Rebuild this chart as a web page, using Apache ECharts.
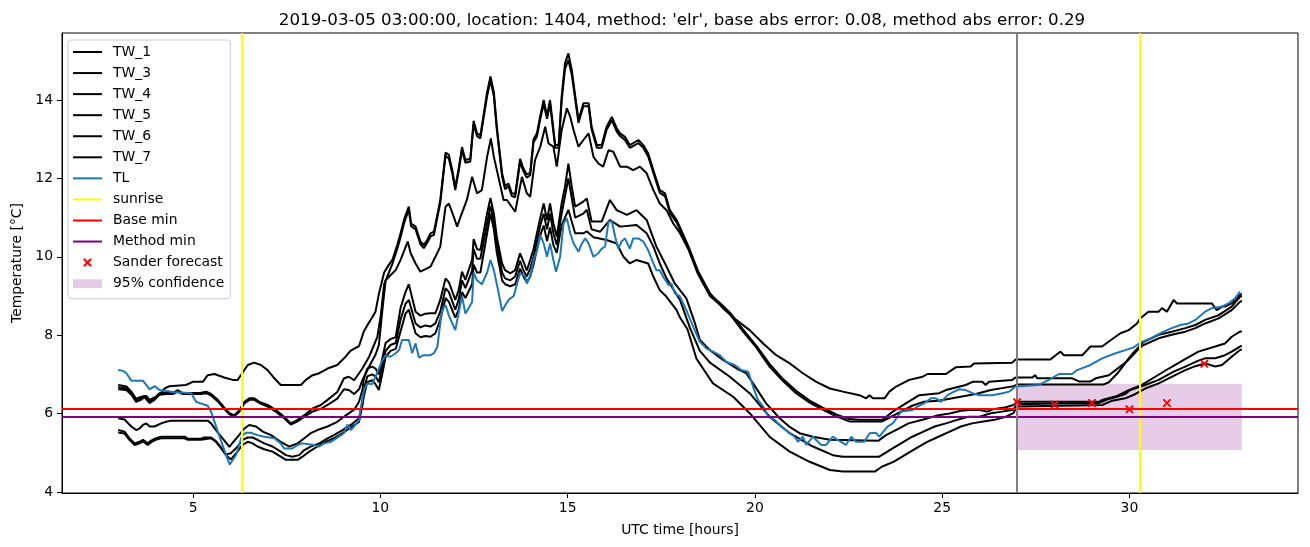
<!DOCTYPE html>
<html><head><meta charset="utf-8">
<script src="https://cdn.jsdelivr.net/npm/echarts@6/dist/echarts.min.js"></script>
<style>html,body{margin:0;padding:0;background:#fff}#c{width:1310px;height:547px}</style>
</head><body><div id="c"></div>
<script>
// ---- data (hour, temperature) ----
const TW_1 = [[3.0,6.73],[3.22,6.69],[3.35,6.56],[3.48,6.38],[3.62,6.43],[3.75,6.45],[3.84,6.35],[3.97,6.41],[4.1,6.48],[4.24,6.64],[4.37,6.7],[4.81,6.73],[4.99,6.81],[5.26,6.81],[5.39,6.98],[5.57,7.01],[5.83,6.92],[6.06,6.86],[6.19,6.86],[6.31,7.03],[6.46,7.24],[6.63,7.3],[6.81,7.24],[6.99,7.11],[7.17,6.9],[7.34,6.73],[7.88,6.73],[8.01,6.86],[8.19,6.98],[8.37,7.03],[8.59,7.15],[8.85,7.24],[9.07,7.45],[9.2,7.6],[9.35,7.68],[9.43,7.72],[9.56,8.1],[9.65,8.25],[9.78,8.45],[9.87,8.6],[9.96,9.05],[10.1,9.6],[10.23,9.8],[10.32,9.92],[10.45,10.3],[10.54,10.6],[10.63,10.94],[10.76,11.28],[10.82,10.85],[10.94,10.77],[11.07,10.39],[11.16,10.3],[11.25,10.43],[11.34,10.6],[11.43,10.64],[11.6,11.45],[11.74,12.66],[11.83,12.6],[11.92,12.21],[12.0,11.77],[12.09,12.25],[12.18,12.8],[12.27,12.47],[12.4,12.5],[12.49,13.47],[12.58,13.15],[12.67,13.1],[12.85,14.2],[12.94,14.6],[13.03,14.2],[13.11,13.32],[13.25,12.13],[13.33,11.8],[13.42,11.87],[13.51,11.62],[13.6,11.6],[13.73,12.5],[13.82,12.25],[13.91,12.1],[14.0,12.15],[14.09,13.0],[14.18,13.15],[14.27,13.6],[14.36,14.0],[14.45,13.6],[14.53,14.0],[14.67,12.85],[14.76,12.85],[14.84,14.09],[14.93,14.94],[15.02,15.19],[15.11,14.77],[15.29,13.49],[15.42,13.92],[15.56,13.92],[15.64,13.32],[15.78,12.85],[15.91,12.85],[16.04,13.32],[16.18,13.57],[16.31,13.28],[16.4,13.15],[16.53,13.06],[16.66,12.85],[16.89,12.98],[17.02,12.85],[17.15,12.64],[17.29,12.21],[17.46,11.7],[17.6,11.62],[17.73,11.19],[17.91,10.94],[18.0,10.75],[18.22,10.28],[18.48,9.64],[18.8,9.07],[19.15,8.69],[19.5,8.39],[19.86,8.13],[20.22,7.79],[20.57,7.49],[20.93,7.28],[21.28,7.03],[21.64,6.81],[22.0,6.64],[22.35,6.56],[22.79,6.47],[22.97,6.39],[23.06,6.47],[23.15,6.39],[23.46,6.39],[23.59,6.56],[23.77,6.69],[24.12,6.86],[24.48,6.94],[24.61,7.01],[25.1,7.01],[25.36,7.18],[25.76,7.2],[25.85,7.28],[26.87,7.3],[26.96,7.38],[27.89,7.38],[28.03,7.49],[28.16,7.58],[28.25,7.49],[28.74,7.49],[28.96,7.71],[29.27,7.71],[29.45,7.84],[29.76,8.05],[29.98,8.13],[30.2,8.3],[30.29,8.43],[30.51,8.6],[30.78,8.6],[30.87,8.69],[31.0,8.6],[31.18,8.9],[31.27,8.81],[32.2,8.81],[32.33,8.64],[32.47,8.73],[32.55,8.73],[32.73,8.81],[32.95,9.03],[33.0,9.05]];
const TW_3 = [[3.0,6.67],[3.22,6.64],[3.35,6.52],[3.48,6.33],[3.62,6.39],[3.7,6.45],[3.84,6.3],[3.97,6.39],[4.1,6.52],[4.28,6.53],[4.46,6.53],[4.59,6.6],[4.72,6.52],[5.21,6.53],[5.35,6.56],[5.48,6.5],[5.66,6.35],[5.83,6.16],[5.97,6.01],[6.1,5.96],[6.23,6.08],[6.37,6.3],[6.5,6.39],[6.63,6.39],[6.77,6.3],[6.99,6.22],[7.21,6.09],[7.43,5.92],[7.61,5.75],[7.79,5.84],[7.97,5.96],[8.19,6.13],[8.41,6.22],[8.59,6.35],[8.85,6.55],[9.03,6.9],[9.16,6.94],[9.3,6.85],[9.52,7.15],[9.7,7.45],[9.92,7.96],[10.01,8.5],[10.1,9.3],[10.23,9.6],[10.32,9.82],[10.45,10.2],[10.54,10.5],[10.63,10.85],[10.76,11.2],[10.82,10.78],[10.94,10.7],[11.07,10.32],[11.16,10.22],[11.25,10.36],[11.34,10.52],[11.43,10.56],[11.6,11.38],[11.74,12.58],[11.83,12.5],[11.92,12.13],[12.0,11.7],[12.09,12.18],[12.18,12.72],[12.27,12.4],[12.4,12.43],[12.49,13.38],[12.58,13.08],[12.67,13.02],[12.85,14.1],[12.94,14.5],[13.03,14.1],[13.11,13.24],[13.25,12.05],[13.33,11.72],[13.42,11.8],[13.51,11.55],[13.6,11.52],[13.73,12.42],[13.82,12.18],[13.91,12.02],[14.0,12.08],[14.09,12.92],[14.18,13.07],[14.27,13.52],[14.36,13.9],[14.45,13.52],[14.53,13.9],[14.67,12.78],[14.76,12.78],[14.84,13.98],[14.93,14.8],[15.02,15.02],[15.11,14.65],[15.29,13.42],[15.42,13.84],[15.56,13.84],[15.64,13.25],[15.78,12.78],[15.91,12.78],[16.04,13.24],[16.18,13.48],[16.31,13.2],[16.4,13.08],[16.53,12.98],[16.66,12.78],[16.89,12.9],[17.02,12.78],[17.15,12.56],[17.29,12.14],[17.46,11.63],[17.6,11.55],[17.73,11.12],[17.91,10.88],[18.0,10.68],[18.22,10.24],[18.48,9.6],[18.8,9.04],[19.06,8.83],[19.33,8.58],[19.68,8.15],[20.04,7.73],[20.39,7.27],[20.75,6.88],[21.1,6.58],[21.46,6.33],[21.81,6.15],[22.17,5.98],[22.52,5.86],[22.79,5.84],[23.41,5.84],[23.68,6.05],[24.03,6.26],[24.39,6.47],[24.92,6.52],[25.1,6.6],[25.63,6.73],[25.81,6.81],[26.07,6.81],[26.16,6.73],[26.25,6.81],[26.87,6.86],[26.96,6.92],[27.41,6.92],[27.48,6.98],[27.54,6.9],[28.47,6.9],[28.65,6.82],[28.96,6.82],[29.1,6.9],[29.45,6.98],[29.89,7.3],[30.1,7.55],[30.38,7.83],[30.78,8.01],[31.13,8.09],[31.49,8.18],[31.76,8.26],[32.02,8.39],[32.38,8.51],[32.73,8.73],[32.95,8.98],[33.0,9.0]];
const TW_4 = [[3.0,6.62],[3.22,6.6],[3.35,6.48],[3.48,6.3],[3.62,6.36],[3.7,6.42],[3.84,6.27],[3.97,6.35],[4.1,6.48],[4.28,6.5],[4.46,6.5],[4.59,6.56],[4.72,6.5],[5.21,6.5],[5.35,6.52],[5.48,6.46],[5.66,6.31],[5.83,6.12],[5.97,5.98],[6.1,5.93],[6.23,6.04],[6.37,6.26],[6.5,6.35],[6.63,6.35],[6.77,6.27],[6.99,6.18],[7.21,6.05],[7.43,5.88],[7.61,5.72],[7.79,5.8],[7.97,5.92],[8.19,6.05],[8.41,6.12],[8.59,6.22],[8.85,6.38],[9.03,6.62],[9.16,6.6],[9.3,6.5],[9.43,6.62],[9.52,6.85],[9.7,7.2],[9.87,7.5],[9.96,7.75],[10.05,8.6],[10.14,9.4],[10.27,9.53],[10.41,9.66],[10.54,9.92],[10.73,10.39],[10.81,10.09],[10.94,9.83],[11.07,9.62],[11.34,9.75],[11.47,10.0],[11.6,10.26],[11.74,11.28],[11.83,11.36],[11.96,11.02],[12.05,10.77],[12.14,11.02],[12.31,11.45],[12.45,12.04],[12.58,11.62],[12.71,11.7],[12.85,12.55],[12.95,13.02],[13.03,12.55],[13.29,11.45],[13.38,11.45],[13.6,11.15],[13.78,12.04],[13.91,11.62],[14.0,11.53],[14.13,12.47],[14.27,12.81],[14.4,13.32],[14.49,12.89],[14.62,12.81],[14.71,12.3],[14.84,13.23],[14.98,13.79],[15.07,13.57],[15.16,13.23],[15.29,12.81],[15.42,12.98],[15.56,13.15],[15.69,12.55],[15.82,12.38],[15.95,12.3],[16.09,12.72],[16.22,12.68],[16.4,12.3],[16.58,12.3],[16.75,12.21],[16.93,12.3],[17.11,12.13],[17.29,11.7],[17.46,11.36],[17.64,11.19],[17.82,10.85],[18.0,10.6],[18.22,10.2],[18.48,9.56],[18.8,9.0],[19.06,8.78],[19.33,8.54],[19.68,8.1],[20.04,7.68],[20.39,7.2],[20.75,6.83],[21.1,6.52],[21.46,6.28],[21.81,6.1],[22.17,5.93],[22.52,5.8],[23.4,5.8],[23.6,5.9],[23.9,6.05],[24.2,6.2],[24.5,6.3],[24.9,6.33],[25.2,6.38],[25.6,6.45],[25.9,6.5],[26.3,6.6],[26.6,6.65],[26.9,6.7],[27.0,6.74],[29.3,6.74],[29.45,6.8],[29.7,7.05],[29.9,7.3],[30.1,7.5],[30.25,7.66],[30.38,7.75],[30.78,7.92],[31.13,8.01],[31.49,8.09],[31.76,8.18],[32.02,8.3],[32.38,8.43],[32.73,8.64],[32.95,8.85],[33.0,8.88]];
const TW_5 = [[3.0,5.88],[3.17,5.85],[3.35,5.67],[3.48,5.58],[3.57,5.62],[3.66,5.71],[3.75,5.75],[3.84,5.67],[3.97,5.67],[4.15,5.75],[4.28,5.79],[4.41,5.82],[5.39,5.82],[5.48,5.75],[5.61,5.58],[5.75,5.41],[5.88,5.26],[5.97,5.15],[6.05,5.25],[6.2,5.42],[6.37,5.62],[6.5,5.71],[6.68,5.67],[6.86,5.54],[7.08,5.45],[7.34,5.28],[7.57,5.16],[7.79,5.24],[7.97,5.37],[8.14,5.5],[8.32,5.58],[8.59,5.67],[8.85,5.79],[9.07,5.95],[9.3,6.1],[9.43,6.3],[9.52,6.6],[9.56,6.9],[9.65,7.15],[9.78,7.2],[9.87,7.15],[9.96,7.0],[10.05,7.4],[10.14,7.8],[10.27,7.9],[10.41,7.95],[10.54,8.7],[10.67,9.1],[10.76,9.3],[10.85,8.95],[10.94,8.6],[11.07,8.5],[11.2,8.55],[11.34,8.56],[11.47,8.56],[11.6,8.9],[11.74,9.45],[11.83,9.35],[12.0,8.9],[12.09,9.15],[12.18,9.62],[12.27,9.41],[12.45,9.92],[12.49,10.45],[12.58,10.2],[12.67,10.17],[12.85,11.11],[12.94,11.5],[13.03,11.1],[13.11,10.5],[13.25,9.83],[13.33,9.66],[13.47,9.58],[13.6,9.66],[13.73,10.09],[13.82,9.88],[13.91,9.65],[14.0,9.92],[14.09,10.2],[14.18,10.6],[14.27,11.0],[14.36,11.36],[14.45,10.94],[14.53,11.36],[14.62,10.85],[14.71,10.51],[14.84,11.36],[14.93,11.79],[15.02,12.38],[15.11,11.79],[15.2,11.28],[15.42,11.41],[15.51,11.49],[15.64,10.9],[15.91,10.9],[16.13,11.45],[16.31,11.19],[16.58,11.07],[16.84,11.19],[17.11,10.94],[17.24,10.6],[17.37,10.26],[17.6,9.83],[17.86,9.32],[18.0,9.15],[18.17,8.94],[18.4,8.3],[18.53,7.88],[18.8,7.62],[19.15,7.37],[19.59,7.11],[19.77,7.03],[19.95,6.77],[20.3,6.26],[20.66,5.88],[20.93,5.66],[21.19,5.5],[21.55,5.41],[22.0,5.33],[23.3,5.31],[23.5,5.45],[23.8,5.6],[24.1,5.75],[24.5,5.85],[24.9,5.96],[25.2,6.0],[25.5,6.07],[25.8,6.1],[26.0,6.09],[26.2,6.05],[26.4,6.12],[26.7,6.16],[26.9,6.22],[27.0,6.3],[29.2,6.3],[29.27,6.35],[29.67,6.45],[29.98,6.6],[30.33,6.73],[30.69,6.94],[31.05,7.15],[31.45,7.37],[31.84,7.58],[32.29,7.71],[32.55,7.79],[32.73,7.96],[32.95,8.09],[33.0,8.1]];
const TW_6 = [[3.0,5.58],[3.17,5.54],[3.3,5.37],[3.44,5.24],[3.57,5.28],[3.66,5.33],[3.79,5.24],[3.88,5.31],[4.0,5.37],[4.15,5.41],[4.77,5.41],[4.86,5.36],[5.21,5.36],[5.3,5.39],[5.48,5.39],[5.61,5.3],[5.75,5.13],[5.88,4.96],[6.01,4.99],[6.19,5.16],[6.32,5.33],[6.46,5.39],[6.59,5.39],[6.72,5.33],[6.9,5.24],[7.12,5.16],[7.34,5.03],[7.48,4.94],[7.65,4.9],[7.83,4.94],[7.97,5.07],[8.14,5.16],[8.37,5.24],[8.59,5.37],[8.76,5.45],[8.99,5.58],[9.21,5.71],[9.43,5.88],[9.52,6.3],[9.56,6.6],[9.65,6.95],[9.78,7.0],[9.87,6.95],[9.96,6.8],[10.05,7.2],[10.14,7.6],[10.27,7.75],[10.41,7.8],[10.54,8.4],[10.67,8.8],[10.76,8.9],[10.85,8.6],[10.94,8.3],[11.07,8.2],[11.2,8.25],[11.34,8.22],[11.47,8.3],[11.6,8.6],[11.74,9.2],[11.83,9.1],[12.0,8.65],[12.09,8.9],[12.18,9.4],[12.27,9.2],[12.45,9.65],[12.49,10.2],[12.58,9.95],[12.67,9.95],[12.85,10.85],[12.94,11.3],[13.03,10.9],[13.11,10.3],[13.25,9.6],[13.33,9.45],[13.47,9.4],[13.6,9.5],[13.73,9.9],[13.82,9.65],[13.91,9.5],[14.0,9.7],[14.09,10.0],[14.18,10.4],[14.27,10.8],[14.36,11.1],[14.45,10.7],[14.53,11.1],[14.62,10.6],[14.71,10.3],[14.84,11.1],[14.93,11.55],[15.02,12.0],[15.11,11.5],[15.2,11.0],[15.42,11.1],[15.51,11.2],[15.64,10.7],[15.87,10.64],[16.13,10.94],[16.4,10.77],[16.84,10.81],[17.11,10.6],[17.29,10.26],[17.46,9.83],[17.64,9.45],[18.0,8.9],[18.26,8.2],[18.53,7.6],[18.8,7.3],[19.33,6.94],[19.86,6.52],[20.39,5.92],[20.93,5.5],[21.55,5.16],[22.08,4.94],[22.35,4.9],[23.32,4.9],[23.6,5.07],[23.9,5.24],[24.2,5.41],[24.5,5.54],[24.8,5.67],[25.1,5.75],[25.4,5.84],[25.7,5.92],[26.0,5.92],[26.3,6.01],[26.6,6.05],[26.9,6.1],[27.0,6.24],[28.0,6.26],[29.18,6.27],[29.4,6.36],[29.67,6.43],[29.89,6.5],[30.02,6.6],[30.42,6.73],[30.78,6.86],[31.18,7.07],[31.49,7.2],[31.84,7.35],[32.02,7.41],[32.29,7.41],[32.55,7.49],[32.73,7.58],[32.95,7.71],[33.0,7.73]];
const TW_7 = [[3.0,5.52],[3.17,5.49],[3.3,5.33],[3.44,5.2],[3.57,5.24],[3.66,5.29],[3.79,5.2],[3.88,5.27],[4.0,5.33],[4.15,5.37],[4.77,5.37],[4.86,5.33],[5.21,5.33],[5.48,5.37],[5.61,5.28],[5.75,5.11],[5.88,4.94],[6.01,4.83],[6.15,4.99],[6.32,5.2],[6.46,5.28],[6.59,5.24],[6.72,5.16],[6.9,5.09],[7.12,5.03],[7.34,4.9],[7.48,4.82],[7.79,4.82],[7.92,4.9],[8.1,5.03],[8.32,5.16],[8.54,5.28],[8.76,5.37],[8.99,5.5],[9.25,5.67],[9.43,5.79],[9.52,6.2],[9.56,6.45],[9.65,6.8],[9.78,6.85],[9.87,6.75],[9.96,6.6],[10.05,7.0],[10.14,7.45],[10.27,7.6],[10.41,7.65],[10.54,8.1],[10.67,8.55],[10.76,8.65],[10.85,8.35],[10.94,8.05],[11.07,7.95],[11.2,7.98],[11.34,7.96],[11.47,8.05],[11.6,8.4],[11.74,8.95],[11.83,8.85],[12.0,8.45],[12.09,8.65],[12.18,9.1],[12.27,8.95],[12.45,9.3],[12.49,9.8],[12.58,9.6],[12.67,9.6],[12.85,10.6],[12.94,11.1],[13.03,10.7],[13.11,10.1],[13.25,9.4],[13.33,9.3],[13.47,9.25],[13.6,9.3],[13.73,9.7],[13.82,9.5],[13.91,9.35],[14.0,9.5],[14.09,9.8],[14.18,10.2],[14.27,10.55],[14.36,10.8],[14.45,10.4],[14.53,10.75],[14.62,10.3],[14.71,10.1],[14.84,10.8],[14.93,11.0],[15.02,11.2],[15.11,10.9],[15.2,10.6],[15.42,10.6],[15.51,10.65],[15.69,10.5],[16.04,10.43],[16.31,10.34],[16.49,10.0],[16.66,9.83],[16.84,9.92],[17.15,9.83],[17.29,9.49],[17.46,9.15],[17.64,8.98],[17.91,8.64],[18.0,8.45],[18.2,8.15],[18.44,7.4],[18.88,6.77],[19.42,6.43],[19.86,6.01],[20.39,5.41],[20.93,5.03],[21.46,4.77],[22.0,4.56],[22.35,4.52],[23.2,4.52],[23.4,4.65],[23.7,4.77],[24.0,4.94],[24.3,5.11],[24.6,5.28],[24.9,5.41],[25.2,5.54],[25.5,5.67],[25.8,5.75],[26.1,5.8],[26.4,5.84],[26.7,5.92],[26.9,6.01],[27.0,6.18],[29.27,6.22],[29.54,6.33],[29.89,6.39],[30.16,6.5],[30.42,6.64],[30.78,6.77],[31.18,6.96],[31.49,7.11],[31.76,7.21],[32.02,7.28],[32.29,7.2],[32.47,7.24],[32.73,7.45],[32.95,7.62],[33.0,7.64]];
const TL = [[3.0,7.11],[3.13,7.09],[3.22,7.03],[3.35,6.84],[3.66,6.84],[3.84,6.62],[3.97,6.7],[4.1,6.6],[4.46,6.55],[4.95,6.52],[5.08,6.3],[5.39,6.2],[5.48,6.05],[5.66,5.54],[5.88,4.94],[5.98,4.7],[6.15,4.95],[6.31,5.45],[6.41,5.51],[6.54,5.51],[6.72,5.45],[6.9,5.41],[7.17,5.37],[7.34,5.24],[7.43,5.11],[7.65,5.11],[7.79,5.2],[7.92,5.24],[8.23,5.2],[8.37,5.16],[8.5,5.24],[8.68,5.28],[9.03,5.5],[9.12,5.72],[9.21,5.58],[9.3,5.67],[9.43,5.84],[9.47,6.1],[9.56,6.6],[9.65,6.77],[9.78,6.75],[9.87,6.94],[10.05,7.35],[10.14,7.49],[10.27,7.45],[10.41,7.54],[10.5,7.62],[10.58,7.88],[10.76,7.88],[10.85,7.54],[10.94,7.79],[11.03,7.43],[11.16,7.49],[11.34,7.49],[11.43,7.54],[11.52,7.7],[11.6,8.3],[11.65,8.64],[11.74,8.77],[11.83,8.5],[12.0,8.13],[12.18,9.0],[12.27,8.55],[12.45,8.85],[12.49,9.6],[12.58,9.4],[12.71,9.3],[12.85,9.6],[12.94,9.92],[13.03,9.66],[13.16,9.07],[13.25,8.62],[13.34,8.77],[13.42,8.9],[13.56,9.0],[13.73,9.58],[13.87,9.5],[13.91,9.32],[14.0,9.49],[14.09,9.92],[14.18,10.15],[14.27,10.55],[14.36,10.34],[14.45,10.0],[14.53,10.34],[14.62,9.92],[14.69,9.62],[14.8,10.0],[14.89,10.85],[14.98,10.98],[15.07,10.6],[15.16,10.34],[15.29,10.13],[15.38,10.34],[15.47,10.47],[15.56,10.34],[15.69,10.0],[15.82,10.09],[15.91,10.21],[16.0,10.26],[16.09,10.9],[16.18,10.9],[16.27,10.51],[16.35,10.21],[16.44,10.39],[16.53,10.47],[16.66,10.21],[16.75,10.47],[16.89,10.47],[17.02,10.39],[17.15,10.17],[17.29,9.83],[17.37,9.66],[17.46,9.66],[17.55,9.49],[17.69,9.28],[17.77,9.32],[17.86,9.07],[17.99,9.0],[18.17,8.64],[18.35,8.22],[18.53,7.83],[18.71,7.66],[18.88,7.58],[19.06,7.49],[19.24,7.32],[19.46,7.24],[19.64,7.11],[19.82,7.07],[19.95,6.69],[20.08,6.35],[20.26,6.13],[20.35,5.92],[20.53,5.84],[20.7,5.67],[20.93,5.5],[21.06,5.41],[21.15,5.28],[21.28,5.41],[21.37,5.2],[21.55,5.41],[21.77,5.2],[21.9,5.2],[22.08,5.41],[22.21,5.33],[22.43,5.2],[22.57,5.41],[22.7,5.28],[22.92,5.28],[23.06,5.5],[23.23,5.51],[23.32,5.41],[23.54,5.67],[23.68,5.75],[23.81,5.92],[23.9,6.05],[24.21,6.09],[24.34,6.18],[24.52,6.26],[24.7,6.39],[24.83,6.39],[24.97,6.3],[25.14,6.47],[25.32,6.56],[25.45,6.62],[25.63,6.6],[25.81,6.52],[25.99,6.47],[26.34,6.47],[26.61,6.52],[26.79,6.56],[26.96,6.69],[27.58,6.73],[27.85,6.86],[28.12,7.01],[28.47,7.01],[28.6,7.11],[28.96,7.24],[29.27,7.41],[29.63,7.54],[29.89,7.62],[30.11,7.69],[30.33,7.83],[30.56,7.92],[30.91,8.09],[31.13,8.18],[31.36,8.26],[31.58,8.3],[31.76,8.39],[32.02,8.6],[32.2,8.69],[32.47,8.73],[32.64,8.81],[32.82,8.94],[32.95,9.11]];
const sunriseHours = [6.3, 30.27];
const baseMin = 6.12;
const methodMin = 5.92;
const forecastStartHour = 27;
const forecastHours = [27, 28, 29, 30, 31, 32];
const sanderForecast = [6.29, 6.23, 6.27, 6.11, 6.27, 7.27];
const confidenceHours = [27, 33];
const confidenceBounds = [5.07, 6.76];
const xTicks = [5, 10, 15, 20, 25, 30];
const yTicks = [4, 6, 8, 10, 12, 14];
const titleText = "2019-03-05 03:00:00, location: 1404, method: 'elr', base abs error: 0.08, method abs error: 0.29";

// ---- chart ----
const FONT = 'DejaVu Sans';
const lineIcon = 'path://M0,0M29,10M0,4L29,4L29,6L0,6Z';
const xIcon = 'path://M0,0M29,10M10.5,1L12,1L18.5,7.5L18.5,9L17,9L10.5,2.5ZM18.5,1L18.5,2.5L12,9L10.5,9L10.5,7.5L17,1Z';
const rectIcon = 'path://M0,0M29,10M0,0.6L29,0.6L29,9.4L0,9.4Z';
const xSymbol = 'path://M0,0L1.7,0L10,8.3L10,10L8.3,10L0,1.7ZM10,0L10,1.7L1.7,10L0,10L0,8.3L8.3,0Z';

const twNames = ['TW_1','TW_3','TW_4','TW_5','TW_6','TW_7'];
const twData = [TW_1, TW_3, TW_4, TW_5, TW_6, TW_7];

const series = [];
twData.forEach((d, i) => series.push({
  name: twNames[i], type: 'line', data: d, showSymbol: false, symbol: 'none',
  color: '#000000', lineStyle: {color: '#000000', width: 2}, z: 3
}));
series.push({name: 'TL', type: 'line', data: TL, showSymbol: false, symbol: 'none',
  color: '#1f77b4', lineStyle: {color: '#1f77b4', width: 2}, z: 4});
const ml = (color, data) => ({silent: true, symbol: ['none','none'], label: {show: false},
  lineStyle: {color: color, width: 2, type: 'solid'}, emphasis: {disabled: true}, data: data, z: 5});
series.push({name: 'sunrise', type: 'line', data: [], color: '#ffff00',
  markLine: ml('#ffff00', sunriseHours.map(h => ({xAxis: h})))});
series.push({name: 'Base min', type: 'line', data: [], color: '#ff0000',
  markLine: ml('#ff0000', [{yAxis: baseMin}])});
series.push({name: 'Method min', type: 'line', data: [], color: '#800080',
  markLine: ml('#800080', [{yAxis: methodMin}])});
series.push({name: 'forecast start', type: 'line', data: [], color: '#808080',
  markLine: ml('#808080', [{xAxis: forecastStartHour}])});
series.push({name: 'Sander forecast', type: 'scatter', symbol: xSymbol, symbolSize: 8,
  data: forecastHours.map((h, i) => [h, sanderForecast[i]]),
  color: '#ff0000', itemStyle: {color: '#ff0000', opacity: 1}, z: 10});
series.push({name: '95% confidence', type: 'line', data: [], color: 'rgba(128,0,128,0.2)', z: 1,
  markArea: {silent: true, itemStyle: {color: 'rgba(128,0,128,0.2)'}, z: 1,
    data: [[{xAxis: confidenceHours[0], yAxis: confidenceBounds[0]}, {xAxis: confidenceHours[1], yAxis: confidenceBounds[1]}]]}});

const legendData = twNames.concat(['TL','sunrise','Base min','Method min']).map(n => ({name: n, icon: lineIcon}));
legendData.push({name: 'Sander forecast', icon: xIcon});
legendData.push({name: '95% confidence', icon: rectIcon});

const chart = echarts.init(document.getElementById('c'), null, {renderer: 'canvas'});
chart.setOption({
  animation: false,
  backgroundColor: '#ffffff',
  title: {text: titleText, left: 677, top: 7, textAlign: 'center',
    textStyle: {fontFamily: FONT, fontSize: 16.7, fontWeight: 'normal', color: '#000'}},
  grid: {left: 62, right: 12, top: 33, bottom: 54, show: true, borderColor: '#000', borderWidth: 1, backgroundColor: 'transparent'},
  legend: {
    data: legendData, orient: 'vertical', left: 68, top: 40, padding: [5, 6, 8, 5],
    itemWidth: 29, itemHeight: 10, itemGap: 7.06, selectedMode: false,
    backgroundColor: 'rgba(255,255,255,0.8)', borderColor: '#cccccc', borderWidth: 1, borderRadius: 3,
    itemStyle: {borderWidth: 0},
    textStyle: {fontFamily: FONT, fontSize: 13.9, color: '#000', padding: [0, 0, 0, 6]}
  },
  xAxis: {
    type: 'value', min: 1.5, max: 34.5,
    name: 'UTC time [hours]', nameLocation: 'middle', nameGap: 30,
    nameTextStyle: {fontFamily: FONT, fontSize: 13.9, color: '#000'},
    axisLine: {show: true, onZero: false, lineStyle: {color: '#000', width: 1}},
    axisTick: {show: true, customValues: xTicks, length: 5, lineStyle: {color: '#000', width: 1}},
    axisLabel: {customValues: xTicks, fontFamily: FONT, fontSize: 13.9, color: '#000', margin: 8},
    splitLine: {show: false}
  },
  yAxis: {
    type: 'value', min: 3.974, max: 15.71,
    name: 'Temperature [°C]', nameLocation: 'middle', nameGap: 36,
    nameTextStyle: {fontFamily: FONT, fontSize: 13.9, color: '#000'},
    axisLine: {show: true, onZero: false, lineStyle: {color: '#000', width: 1}},
    axisTick: {show: true, customValues: yTicks, length: 5, lineStyle: {color: '#000', width: 1}},
    axisLabel: {customValues: yTicks, fontFamily: FONT, fontSize: 13.9, color: '#000', margin: 9},
    splitLine: {show: false}
  },
  series: series
});
</script>
</body></html>
